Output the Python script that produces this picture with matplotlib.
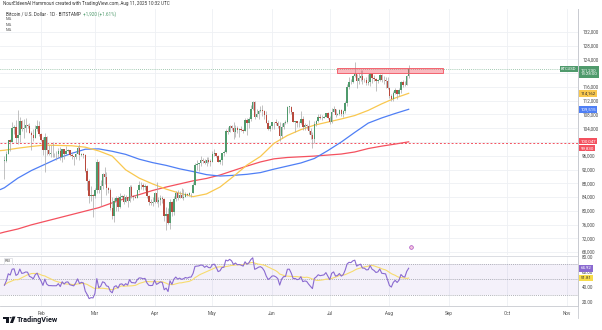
import numpy as np
import pandas as pd
import matplotlib
matplotlib.use("Agg")
import matplotlib.pyplot as plt
import matplotlib.dates as mdates
import matplotlib.transforms as mtransforms
from matplotlib.lines import Line2D
from matplotlib.patches import Rectangle, Polygon, Circle

plt.rcParams['font.family'] = ['Roboto', 'DejaVu Sans']

# BTCUSD daily candles (Bitstamp), 13 Jan - 11 Aug 2025, in thousands of USD
start_day = "2025-01-13"
first_open = 94.5
closes = [
    94.5, 96.5, 100.5, 99.9, 104.1, 104.4, 101.1, 102.0, 106.1, 103.7, 104.0, 104.8, 104.7, 102.6, 102.1, 101.3, 103.7, 104.7, 102.4,
    100.6, 97.7, 101.4, 97.8, 96.6, 96.6, 96.5, 96.5, 96.5, 97.4, 95.7, 97.9, 96.6, 97.5, 97.6, 96.1, 95.8, 95.5, 96.6, 98.3, 96.1, 96.6, 96.3, 91.5, 88.7, 84.3, 84.7, 84.4,
    86.1, 94.3, 86.1, 87.2, 90.6, 89.9, 86.7, 86.1, 80.7, 78.6, 82.9, 83.7, 81.1, 84.0, 84.3, 82.6, 84.0, 82.7, 86.8, 84.2, 84.1, 83.8, 86.1, 87.5, 87.4, 86.9, 87.2, 84.4, 82.6, 82.4, 82.5,
    85.2, 82.5, 83.1, 83.8, 83.5, 78.4, 79.2, 76.3, 82.6, 79.6, 83.4, 85.3, 83.7, 84.5, 83.6, 84.0, 84.9, 84.5, 85.1, 85.2, 87.5, 93.4, 93.7, 93.9, 94.7, 94.6, 93.8, 94.9, 94.3, 94.2,
    96.5, 96.9, 95.9, 94.3, 94.8, 96.8, 97.0, 103.2, 102.9, 104.6, 104.1, 102.8, 104.1, 103.5, 103.7, 103.5, 103.2, 106.4, 105.6, 106.8, 109.7, 111.7, 107.3, 108.0, 109.0, 109.4, 108.9, 107.8, 105.6, 103.9, 104.6,
    105.7, 105.8, 105.4, 104.7, 101.6, 104.3, 105.6, 105.7, 110.2, 110.3, 108.6, 105.9, 106.0, 105.4, 105.6, 106.8, 104.5, 104.8, 104.6, 103.3, 102.1, 100.9, 105.3, 106.1, 107.3, 106.9, 107.1, 107.3, 108.4, 107.1,
    105.7, 108.8, 109.6, 107.9, 108.2, 109.2, 108.2, 108.9, 111.3, 115.9, 117.5, 117.4, 119.1, 119.8, 117.7, 118.7, 119.3, 117.9, 117.9, 117.3, 117.4, 119.9, 118.7, 118.3, 117.6, 117.9, 119.4, 118.0, 117.9, 117.8, 115.8,
    113.3, 112.5, 114.2, 115.0, 114.1, 115.0, 117.5, 116.7, 116.5, 119.31, 121.23,
]
highs = [
    95.9, 97.4, 100.7, 100.9, 105.9, 104.9, 106.3, 109.4, 107.2, 106.3, 106.8, 107.0, 105.3, 105.5, 103.2, 103.8, 104.8, 106.4, 106.0,
    102.7, 101.5, 102.5, 101.7, 99.0, 99.2, 100.1, 96.9, 97.3, 98.3, 98.5, 98.1, 98.0, 98.8, 97.9, 97.7, 97.0, 96.0, 96.9, 98.7, 99.5, 96.9, 96.8, 96.5, 92.5, 89.3, 87.1, 85.0,
    86.6, 95.0, 94.4, 88.9, 91.0, 92.8, 91.2, 86.8, 86.5, 84.0, 83.6, 84.3, 84.3, 85.2, 84.7, 85.0, 84.7, 84.0, 87.4, 87.4, 84.7, 84.5, 86.1, 88.8, 88.5, 88.2, 87.8, 87.5, 84.6, 83.5, 83.9,
    85.5, 88.5, 83.9, 84.7, 84.2, 83.8, 81.2, 80.8, 83.5, 82.7, 84.2, 85.8, 86.1, 85.8, 86.5, 86.4, 85.5, 85.1, 85.6, 85.3, 88.5, 93.9, 94.7, 94.0, 95.8, 95.3, 95.2, 95.6, 95.5, 95.2,
    97.4, 97.9, 96.9, 96.3, 95.2, 96.9, 97.7, 103.9, 104.3, 104.9, 105.0, 105.8, 104.9, 104.6, 104.2, 104.6, 103.8, 107.1, 107.1, 107.3, 110.8, 112.0, 111.9, 109.5, 109.3, 110.4, 110.7, 109.3, 108.9, 106.3, 104.9,
    105.9, 105.9, 106.8, 106.0, 105.9, 105.4, 105.9, 106.5, 110.6, 110.4, 110.4, 108.8, 106.2, 106.2, 106.1, 108.9, 107.7, 105.5, 105.2, 106.5, 104.0, 103.0, 106.1, 106.3, 108.1, 108.2, 107.8, 107.6, 108.5, 108.8,
    107.5, 109.8, 110.5, 109.7, 108.4, 109.7, 109.7, 109.2, 111.9, 116.8, 118.9, 118.2, 119.5, 123.2, 119.9, 120.0, 120.8, 120.9, 118.6, 118.9, 119.7, 120.2, 120.1, 119.5, 118.5, 118.3, 119.8, 119.8, 119.2, 118.8, 118.9,
    116.1, 114.0, 114.7, 115.7, 115.1, 115.7, 117.6, 117.9, 117.7, 119.4, 122.3,
]
lows = [
    89.3, 94.3, 96.5, 97.3, 99.9, 102.3, 99.6, 99.5, 100.1, 103.3, 101.3, 102.8, 104.1, 102.5, 97.8, 100.3, 101.3, 103.3, 101.6,
    100.3, 96.2, 91.2, 96.2, 96.2, 95.7, 95.7, 95.7, 94.7, 95.3, 94.9, 94.1, 95.2, 96.4, 97.2, 96.0, 95.2, 93.4, 95.1, 96.4, 94.9, 95.8, 95.3, 91.3, 86.0, 82.3, 82.8, 78.2,
    83.6, 85.1, 85.1, 81.5, 86.3, 87.8, 84.7, 85.3, 80.1, 77.5, 76.6, 80.0, 79.9, 80.8, 83.6, 82.1, 82.5, 81.2, 82.5, 83.7, 83.2, 83.7, 83.7, 85.6, 86.3, 85.9, 85.9, 83.7, 81.6, 81.6, 81.3,
    82.4, 82.3, 81.2, 81.6, 82.4, 77.1, 74.5, 76.2, 74.6, 78.4, 78.9, 82.8, 83.0, 83.7, 83.6, 83.1, 83.9, 84.3, 84.4, 83.9, 85.1, 87.5, 91.9, 91.7, 92.9, 93.9, 93.6, 92.9, 93.8, 92.9,
    94.1, 96.0, 95.7, 94.1, 93.5, 93.4, 95.8, 96.9, 102.3, 102.8, 103.6, 100.8, 101.5, 102.6, 101.4, 103.1, 102.6, 103.1, 102.0, 104.2, 106.1, 109.3, 106.8, 107.3, 106.6, 108.7, 107.6, 106.8, 105.4, 103.6, 103.1,
    103.9, 103.7, 105.0, 104.1, 100.4, 101.1, 103.9, 105.1, 105.4, 108.4, 108.1, 105.7, 102.8, 104.3, 104.5, 105.1, 103.4, 103.5, 103.9, 102.4, 100.9, 98.2, 99.6, 104.7, 105.8, 106.6, 106.4, 106.9, 107.2, 106.7,
    105.3, 105.4, 108.6, 107.3, 107.8, 107.9, 107.5, 107.4, 108.4, 110.6, 115.3, 116.9, 117.3, 118.9, 115.7, 116.9, 117.8, 116.9, 117.4, 116.5, 116.5, 116.2, 117.3, 117.6, 114.7, 117.2, 117.8, 117.4, 116.9, 115.8, 115.5,
    112.7, 112.0, 112.0, 114.0, 112.6, 113.4, 114.3, 115.9, 116.3, 116.5, 118.7,
]
# closes 16 Dec 2024 - 12 Jan 2025, only used as RSI look-back
rsi_warmup = [106.1, 106.1, 100.2, 97.5, 97.8, 97.2, 95.1, 94.7, 98.7, 99.4, 95.8, 94.2, 95.2, 93.7,
              92.8, 93.4, 94.4, 96.9, 98.1, 98.2, 98.3, 102.2, 96.9, 95.0, 92.5, 94.7, 94.5, 94.5]

# moving averages (weekly samples, thousands)
ma_days = ["2025-01-11"] + list(pd.date_range("2025-01-13", "2025-08-11", freq="7D").strftime("%Y-%m-%d"))
ma_yellow = [97.5, 97.6, 98.2, 98.7, 99.1, 99.0, 98.9, 98.5, 97.4, 95.9, 91.9, 89.5, 87.8, 86.3, 85.1, 84.1, 84.9,
             86.9, 90.0, 93.3, 95.8, 99.6, 101.9, 103.6, 104.9, 105.8, 106.7, 107.7, 109.2, 111.1, 112.8, 114.162]
ma_blue = [86.2, 86.7, 89.5, 91.7, 93.5, 95.3, 96.7, 97.9, 98.0, 97.3, 96.4, 95.0, 94.0, 93.2, 92.2, 91.4, 90.5,
           90.1, 90.3, 90.6, 91.1, 92.1, 93.0, 93.9, 95.2, 97.5, 100.0, 102.8, 105.5, 107.0, 108.3, 109.515]
ma_red = [73.5, 73.8, 74.7, 75.9, 76.9, 77.9, 78.9, 79.9, 80.9, 82.3, 83.6, 84.7, 85.9, 86.9, 87.8, 88.7, 89.4,
          90.4, 91.7, 93.0, 94.2, 95.1, 95.5, 95.7, 95.9, 96.2, 96.5, 97.1, 98.1, 98.8, 99.4, 100.047]

# drawn levels
zone_low, zone_high = 120.0, 121.5
zone_start, zone_end = "2025-07-05", "2025-08-29"
support_level = 99.83
last_price = 121.23
rsi_last, rsi_ma_last = 64.92, 51.81

month_ticks = ["2025-02-01", "2025-03-01", "2025-04-01", "2025-05-01", "2025-06-01",
               "2025-07-01", "2025-08-01", "2025-09-01", "2025-10-01", "2025-11-01"]
month_labels = ["Feb", "Mar", "Apr", "May", "Jun", "Jul", "Aug", "Sep", "Oct", "Nov"]
price_ticks = list(range(68000, 132001, 4000))
hidden_ticks = [100000, 120000]   # covered by the price tags
rsi_ticks = [20, 40, 60, 80]

UP, DOWN = '#4f9a6c', '#b94a3e'
YELLOW, BLUE, RED = '#f9c84f', '#4f7ff5', '#f4515f'
PURPLE = '#8a6ad0'

W, H = 602, 330
fy = lambda y: 1 - y / H

fig = plt.figure(figsize=(W / 100, H / 100), dpi=100)
fig.patch.set_facecolor('white')
ax = fig.add_axes([0, fy(255), 578 / W, (255 - 9) / H])
rx = fig.add_axes([0, fy(306), 578 / W, (306 - 256) / H], sharex=ax)

dates = pd.date_range(start_day, periods=len(closes), freq="D")
x = mdates.date2num(dates)
c = np.array(closes) * 1000
o = np.r_[first_open, closes[:-1]] * 1000
h = np.array(highs) * 1000
l = np.array(lows) * 1000

feb1 = mdates.date2num(pd.Timestamp("2025-02-01"))
ax.set_xlim(feb1 - 41 / 1.925, feb1 + (578 - 41) / 1.925)
ax.set_ylim(67128, 138690)
rx.set_ylim(14.67, 81.33)

mticks = mdates.date2num(pd.to_datetime(month_ticks))
for a in (ax, rx):
    a.set_facecolor('white')
    for s in ('top', 'left', 'bottom'):
        a.spines[s].set_visible(False)
    a.spines['right'].set_color('#c8cad0')
    a.spines['right'].set_linewidth(0.6)
    for m in mticks:
        a.axvline(m, color='#eef0f4', lw=0.6, zorder=0)
    a.yaxis.tick_right()
    a.tick_params(axis='y', length=0, pad=3, labelsize=3.3, colors='#4a4a4a')
for p in price_ticks:
    ax.axhline(p, color='#eef0f4', lw=0.6, zorder=0)
ax.set_yticks(price_ticks)
ax.set_yticklabels(["" if p in hidden_ticks else f"{p:,}" for p in price_ticks])
ax.tick_params(axis='x', bottom=False, labelbottom=False)

# moving averages
md = mdates.date2num(pd.to_datetime(ma_days))
ax.plot(md, np.array(ma_red) * 1000, color=RED, lw=0.9, zorder=2)
ax.plot(md, np.array(ma_blue) * 1000, color=BLUE, lw=0.9, zorder=2)
ax.plot(md, np.array(ma_yellow) * 1000, color=YELLOW, lw=0.9, zorder=2)

# candles
col = np.where(c >= o, UP, DOWN)
ax.vlines(x, l, h, color='#a8a8a8', lw=0.5, zorder=3)
ax.bar(x, np.maximum(np.abs(c - o), 150), bottom=np.minimum(o, c), width=0.75,
       color=col, linewidth=0, zorder=4)

# levels
ax.axhline(support_level * 1000, color=RED, lw=0.7, ls=(0, (2, 2)), zorder=1)
ax.axhline(last_price * 1000, color=UP, lw=0.5, ls=(0, (1, 2)), zorder=1)
zs, ze = mdates.date2num(pd.to_datetime([zone_start, zone_end]))
ax.add_patch(Rectangle((zs, zone_low * 1000), ze - zs, (zone_high - zone_low) * 1000,
                       facecolor=(0.95, 0.32, 0.38, 0.4), edgecolor=RED, lw=0.6, zorder=5))

# event marker
ax.scatter([mdates.date2num(pd.Timestamp("2025-08-12"))], [69400], s=7, marker='o',
           facecolor='#f6c6dc', edgecolor='#a64dc4', lw=0.5, zorder=6, clip_on=False)

# RSI 14 with its 14 SMA
s = pd.Series(rsi_warmup + closes)
d = s.diff()
up = d.clip(lower=0).ewm(alpha=1 / 14, adjust=False).mean()
dn = (-d.clip(upper=0)).ewm(alpha=1 / 14, adjust=False).mean()
rsi = 100 - 100 / (1 + up / dn)
rsi_ma = rsi.rolling(14).mean()
rsi = rsi.values[-len(closes):]
rsi_ma = rsi_ma.values[-len(closes):]

rx.axhspan(30, 70, color=PURPLE, alpha=0.09, lw=0, zorder=0)
for lev in (70, 50, 30):
    rx.axhline(lev, color='#9598a1', lw=0.5, ls=(0, (1.5, 1.5)), zorder=1)
rx.plot(x, rsi_ma, color='#f7dc6f', lw=0.8, zorder=2)
rx.plot(x, rsi, color=PURPLE, lw=0.8, zorder=3)
rx.set_yticks(rsi_ticks)
rx.set_yticklabels([f"{t:.2f}" for t in rsi_ticks])
rx.set_xticks(mticks)
rx.set_xticklabels(month_labels)
rx.tick_params(axis='x', length=0, pad=3.5, labelsize=3.3, colors='#4a4a4a')
rx.spines['bottom'].set_visible(True)
rx.spines['bottom'].set_color('#c8cad0')
rx.spines['bottom'].set_linewidth(0.6)

# right-axis tags
def tag(a, val, text, fc, tc='white', dy=0):
    tr = mtransforms.blended_transform_factory(a.transAxes, a.transData)
    a.annotate(text, xy=(1.0, val), xycoords=tr, xytext=(1.8, dy), textcoords='offset points',
               ha='left', va='center', fontsize=3.2, color=tc, zorder=10, annotation_clip=False,
               bbox=dict(boxstyle='square,pad=0.3', fc=fc, ec='none'))

tag(ax, last_price * 1000, "121,230\n13:28:00", UP, dy=-2.2)
tag(ax, ma_yellow[-1] * 1000, "114,162", YELLOW, tc='#333333')
tag(ax, ma_blue[-1] * 1000, "109,515", BLUE)
tag(ax, ma_red[-1] * 1000, "100,047", RED, dy=0.6)
tag(ax, support_level * 1000, "99,830", RED, dy=-4.0)
tr = mtransforms.blended_transform_factory(ax.transAxes, ax.transData)
ax.text(0.997, last_price * 1000, "BTCUSD", transform=tr, ha='right', va='center', fontsize=3.0,
        color='white', zorder=10, bbox=dict(boxstyle='square,pad=0.3', fc=UP, ec='none'))
tag(rx, rsi_last, f"{rsi_last:.2f}", PURPLE)
tag(rx, rsi_ma_last, f"{rsi_ma_last:.2f}", '#f7dc4a', tc='#333333')

# header texts
fig.text(3 / W, fy(4), "NourEldeenAl Hammouri created with TradingView.com, Aug 11, 2025 10:32 UTC",
         fontsize=3.3, color='#333333', va='center')
t1 = fig.text(6 / W, fy(14), "Bitcoin / U.S. Dollar · 1D · BITSTAMP", fontsize=3.3, color='#333333', va='center')
fig.canvas.draw()
bb = t1.get_window_extent()
fig.text(bb.x1 / fig.bbox.width + 2 / W, fy(14), "+1,920 (+1.61%)", fontsize=3.3, color=UP, va='center')
for yy in (19.5, 24.7, 29.9):
    fig.text(6 / W, fy(yy), "MA", fontsize=3.0, color='#555555', va='center')
fig.text(5 / W, fy(261), "RSI", fontsize=3.0, color='#555555', va='center',
         bbox=dict(boxstyle='square,pad=0.3', fc='white', ec='#d0d2d8', lw=0.4))

# panel separators and price-scale border
fig.add_artist(Line2D([0, 578 / W], [fy(255.5), fy(255.5)], color='#d6d8de', lw=0.6))
fig.add_artist(Line2D([578 / W, 578 / W], [fy(9), fy(318)], color='#c8cad0', lw=0.6))

# TradingView logo
def px(pts):
    return [(xx / W, fy(yy)) for xx, yy in pts]
fig.add_artist(Polygon(px([(3, 316.5), (9, 316.5), (9, 323), (6.3, 323), (6.3, 318.8), (3, 318.8)]),
                       closed=True, fc='#131722', ec='none'))
fig.add_artist(Circle((10.6 / W, fy(317.7)), 1.1 / W, fc='#131722', ec='none'))
fig.add_artist(Polygon(px([(12.5, 316.5), (15.5, 316.5), (13.0, 323), (10.0, 323)]),
                       closed=True, fc='#131722', ec='none'))
fig.text(17 / W, fy(320), "TradingView", fontsize=5.2, fontweight='bold', color='#131722', va='center')

fig.savefig("out.png", dpi=100, facecolor='white')
